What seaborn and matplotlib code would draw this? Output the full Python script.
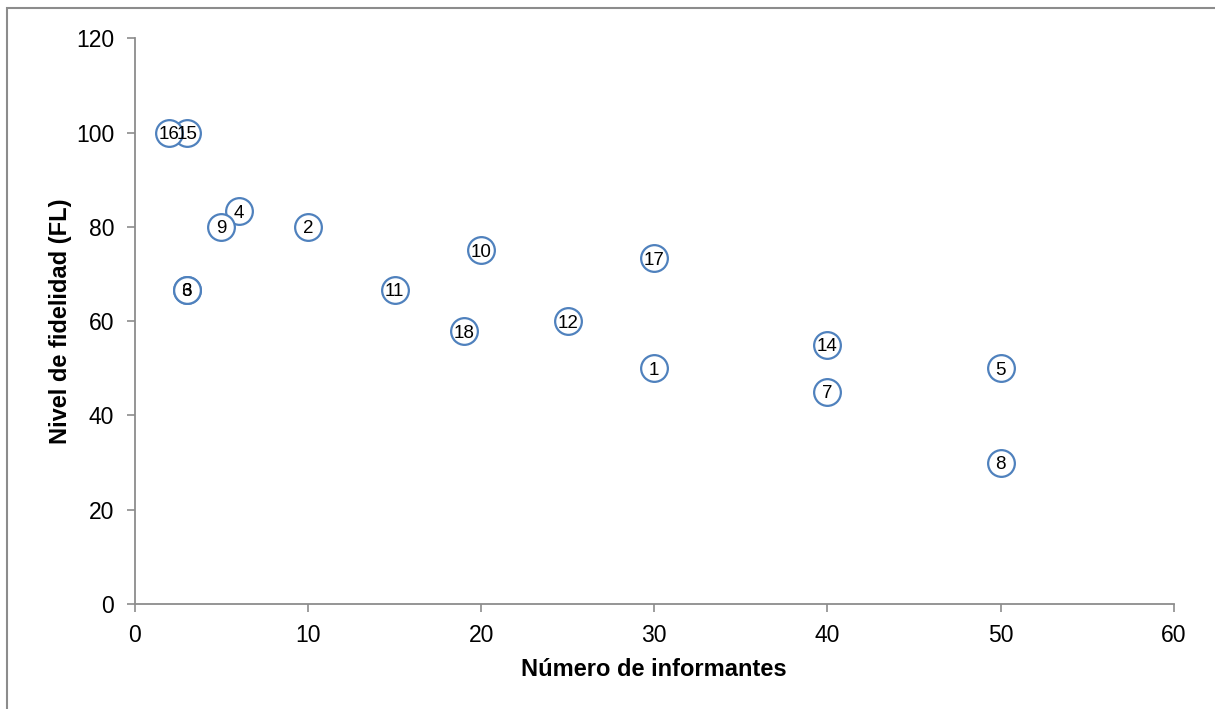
import pandas as pd
import matplotlib.pyplot as plt
import matplotlib.patches as mpatches
import seaborn as sns

# Datos
especies = ["1", "2", "3", "4", "5", "6", "7", "8", "9", "10",
            "11", "12", "14", "15", "16", "17", "18"]
informantes = [30, 10, 3, 6, 50, 3, 40, 50, 5, 20,
               15, 25, 40, 3, 2, 30, 19]
fidelidad = [50, 80, 66.7, 83.3, 50, 66.7, 45, 30, 80, 75,
             66.7, 60, 55, 100, 100, 73.3, 57.9]

df = pd.DataFrame({"especie": especies, "N": informantes, "FL": fidelidad})

sns.set_theme(style="white")
plt.rcParams["font.family"] = ["Liberation Sans", "DejaVu Sans"]
plt.rcParams.update({
    "text.color": "black",
    "axes.labelcolor": "black",
    "xtick.color": "black",
    "ytick.color": "black",
})

fig, ax = plt.subplots(figsize=(12.15, 7.09), dpi=100)
fig.subplots_adjust(left=0.111, right=0.966, bottom=0.148, top=0.946)

sns.scatterplot(data=df, x="N", y="FL", ax=ax, s=370, marker="o",
                facecolor="white", edgecolor="#4F81BD", linewidth=1.6, zorder=3)

# Etiqueta de cada especie dentro de su círculo
for _, fila in df.iterrows():
    ax.text(fila["N"], fila["FL"], fila["especie"], ha="center", va="center_baseline",
            fontsize=13.5, color="black", zorder=4)

ax.set_xlim(0, 60)
ax.set_ylim(0, 120)
ax.set_xticks(range(0, 61, 10))
ax.set_yticks(range(0, 121, 20))
ax.tick_params(axis="both", direction="out", length=6, width=1.2,
               labelsize=16.5, bottom=True, left=True)
ax.tick_params(axis="x", pad=8)
ax.tick_params(axis="y", pad=9)
ax.tick_params(axis="both", color="#8c8c8c", labelcolor="black")
ax.set_xlabel("Número de informantes", fontsize=17, fontweight="bold", labelpad=8)
ax.set_ylabel("Nivel de fidelidad (FL)", fontsize=17, fontweight="bold", labelpad=3)

sns.despine(ax=ax)
for lado in ["left", "bottom"]:
    ax.spines[lado].set_color("#8c8c8c")
    ax.spines[lado].set_linewidth(1.3)

# Marco exterior del gráfico
marco = mpatches.Rectangle((7 / 1215, -0.01), 1.05, 1 - 8 / 709 + 0.01,
                           transform=fig.transFigure, fill=False,
                           edgecolor="#8c8c8c", linewidth=1.5)
fig.patches.append(marco)

fig.savefig("out.png", dpi=100)
plt.close(fig)
